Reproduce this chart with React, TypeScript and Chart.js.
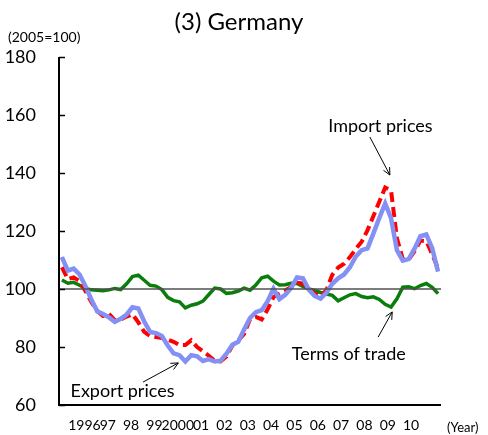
import React, { useEffect, useRef } from "react";
import { Chart, registerables } from "chart.js";

Chart.register(...registerables);

// Quarterly observations, 1995Q1 .. 2011Q1 (index 0..64), 2005 = 100
const exportPrices = [
  111, 106.3, 107, 105, 101, 96.4, 92.3, 91.4, 90.2, 88.7,
  89.7, 91.2, 93.7, 93.3, 88.8, 85.2, 84.8, 83.8, 80.5, 77.8,
  77.2, 75, 77.2, 76.8, 75.2, 75.8, 75, 75.3, 77.7, 80.8,
  81.8, 86, 90, 92, 92.7, 95.8, 100.1, 96.5, 98, 100.4,
  104, 103.7, 99.8, 97.6, 96.7, 98.7, 101.8, 103.7, 105, 107.5,
  111.2, 113.4, 114, 119.2, 124.5, 129.5, 124.4, 113.4, 109.8, 110.3,
  113.9, 118.2, 118.8, 114.1, 106,
];
const importPrices = [
  107.5, 103.4, 104, 102.7, 99.3, 95.5, 92.4, 90.7, 91.4, 89.3,
  89.5, 90.5, 91.3, 88.5, 85.2, 83.8, 83.4, 83.1, 82.5, 81.8,
  80.7, 80.7, 82.3, 80, 78.5, 77, 75.3, 75, 76.7, 80.5,
  82.2, 84.5, 89.6, 90.4, 89.5, 93, 97.2, 98.4, 99.5, 100.7,
  102.1, 101.9, 99.9, 98.5, 97.5, 99.6, 104.9, 107.4, 108.7, 111,
  113.8, 116.3, 120.3, 125.2, 130.1, 135, 134, 117.5, 110.3, 110.1,
  113, 116.7, 116.5, 112, 107,
];
const termsOfTrade = [
  103.1, 102, 102.3, 101.3, 100.2, 99.7, 99.6, 99.4, 99.7, 100.2,
  99.8, 101.8, 104.3, 104.8, 103, 101.3, 101, 99.8, 97.1, 96,
  95.6, 93.5, 94.4, 94.9, 95.8, 98.1, 100.3, 100, 98.5, 98.7,
  99.3, 100.3, 99.6, 101.4, 103.9, 104.4, 102.7, 101.4, 101.5, 102,
  101.9, 100.9, 100, 99.5, 98.8, 98.3, 97.8, 95.9, 97, 98,
  98.4, 97.4, 97, 97.3, 96.4, 94.7, 93.8, 96.6, 100.6, 100.8,
  100.1, 101.2, 101.9, 100.6, 98.4,
];
const yearLabels = [
  "1996", "97", "98", "99", "2000", "01", "02", "03", "04", "05",
  "06", "07", "08", "09", "10",
];
const baseValue = 100;
const yTicks = [60, 80, 100, 120, 140, 160, 180];

// Annotations in data coordinates: label position, arrow start, arrow tip
const annotations = [
  { text: "Import prices", tx: 54.2, ty: 156.2, ax: 52.4, ay: 152.4, bx: 55.8, by: 139.3 },
  { text: "Terms of trade", tx: 48.8, ty: 77.6, ax: 53.8, ay: 83.4, bx: 56.2, by: 92.1 },
  { text: "Export prices", tx: 10.3, ty: 64.8, ax: 13.8, ay: 67.9, bx: 19.8, by: 74.5 },
];

const FONT = "Lato, 'Open Sans', sans-serif";

export default function App() {
  const ref = useRef<HTMLCanvasElement | null>(null);

  useEffect(() => {
    if (!ref.current) return;
    const idx = exportPrices.map((_, i) => i);
    const toXY = (arr: number[]) => arr.map((v, i) => ({ x: idx[i], y: v }));

    const overlay = {
      id: "overlay",
      afterDatasetsDraw(chart: any) {
        const ctx = chart.ctx;
        const ys = chart.scales.y;
        const area = chart.chartArea;
        ctx.save();
        ctx.strokeStyle = "#000";
        ctx.lineWidth = 2;
        ctx.beginPath();
        ctx.moveTo(area.left, area.top);
        ctx.lineTo(area.left, area.bottom);
        ctx.lineTo(area.right, area.bottom);
        ctx.stroke();
        ctx.lineWidth = 1.5;
        yTicks.forEach((t) => {
          const py = Math.round(ys.getPixelForValue(t)) + 0.5;
          ctx.beginPath();
          ctx.moveTo(area.left, py);
          ctx.lineTo(area.left + 6, py);
          ctx.stroke();
        });
        ctx.restore();
      },
      afterDraw(chart: any) {
        const ctx = chart.ctx;
        const xs = chart.scales.x;
        const ys = chart.scales.y;
        ctx.save();
        ctx.fillStyle = "#000";
        ctx.textAlign = "center";
        ctx.textBaseline = "middle";
        ctx.font = `24px ${FONT}`;
        ctx.fillText("(3) Germany", 239, 22);
        ctx.font = `14px ${FONT}`;
        ctx.textAlign = "left";
        ctx.fillText("(2005=100)", 8, 37);
        ctx.font = `13px ${FONT}`;
        ctx.fillText("(Year)", 447, 428);
        ctx.font = `18px ${FONT}`;
        ctx.textAlign = "center";
        annotations.forEach((an) => {
          ctx.fillText(an.text, xs.getPixelForValue(an.tx), ys.getPixelForValue(an.ty));
          const x1 = xs.getPixelForValue(an.ax);
          const y1 = ys.getPixelForValue(an.ay);
          const x2 = xs.getPixelForValue(an.bx);
          const y2 = ys.getPixelForValue(an.by);
          ctx.strokeStyle = "#000";
          ctx.lineWidth = 1;
          ctx.beginPath();
          ctx.moveTo(x1, y1);
          ctx.lineTo(x2, y2);
          ctx.stroke();
          const ang = Math.atan2(y2 - y1, x2 - x1);
          const L = 8;
          ctx.beginPath();
          ctx.moveTo(x2 - L * Math.cos(ang - 0.45), y2 - L * Math.sin(ang - 0.45));
          ctx.lineTo(x2, y2);
          ctx.lineTo(x2 - L * Math.cos(ang + 0.45), y2 - L * Math.sin(ang + 0.45));
          ctx.stroke();
        });
        ctx.restore();
      },
    };

    const chart = new Chart(ref.current, {
      type: "line",
      data: {
        datasets: [
          {
            label: "base",
            data: [
              { x: -0.5, y: baseValue },
              { x: 64.5, y: baseValue },
            ],
            borderColor: "#505050",
            borderWidth: 1.5,
            pointRadius: 0,
          },
          {
            label: "Export prices",
            data: toXY(exportPrices),
            borderColor: "#8391f5",
            borderWidth: 4.5,
            pointRadius: 0,
          },
          {
            label: "Export prices (pattern)",
            data: toXY(exportPrices),
            borderColor: "#2233ee",
            borderWidth: 2,
            borderDash: [2, 1.5],
            pointRadius: 0,
          },
          {
            label: "Import prices",
            data: toXY(importPrices),
            borderColor: "#ff0000",
            borderWidth: 4,
            borderDash: [10, 5],
            pointRadius: 0,
          },
          {
            label: "Terms of trade",
            data: toXY(termsOfTrade),
            borderColor: "#0a7d0a",
            borderWidth: 3.5,
            pointRadius: 0,
          },
        ],
      },
      options: {
        animation: false,
        responsive: false,
        events: [],
        layout: { padding: { top: 57, right: 47, bottom: 0, left: 0 } },
        plugins: {
          legend: { display: false },
          tooltip: { enabled: false },
          title: { display: false },
        },
        elements: { line: { tension: 0 } },
        scales: {
          x: {
            type: "linear",
            min: -0.5,
            max: 64.5,
            grid: { display: false, drawTicks: false },
            border: { display: false },
            afterBuildTicks: (scale: any) => {
              scale.ticks = yearLabels.map((_, k) => ({ value: 3.83 + k * 3.97 }));
            },
            afterFit: (scale: any) => {
              scale.height = 30;
              scale.paddingLeft = 0;
              scale.paddingRight = 0;
            },
            ticks: {
              autoSkip: false,
              maxRotation: 0,
              padding: 12,
              color: "#000",
              font: { family: FONT, size: 14 },
              callback: (_v: any, i: number) => yearLabels[i],
            },
          },
          y: {
            min: 60,
            max: 180,
            grid: { display: false, drawTicks: false },
            border: { display: false },
            afterFit: (scale: any) => {
              scale.width = 59;
              scale.paddingTop = 0;
              scale.paddingBottom = 0;
            },
            afterBuildTicks: (scale: any) => {
              scale.ticks = yTicks.map((v) => ({ value: v }));
            },
            ticks: {
              padding: 23,
              color: "#000",
              font: { family: FONT, size: 18 },
            },
          },
        },
      },
      plugins: [overlay],
    });
    return () => chart.destroy();
  }, []);

  return (
    <div style={{ position: "absolute", left: 0, top: 0, width: 488, height: 435, background: "#fff" }}>
      <canvas ref={ref} width={488} height={435} />
    </div>
  );
}
